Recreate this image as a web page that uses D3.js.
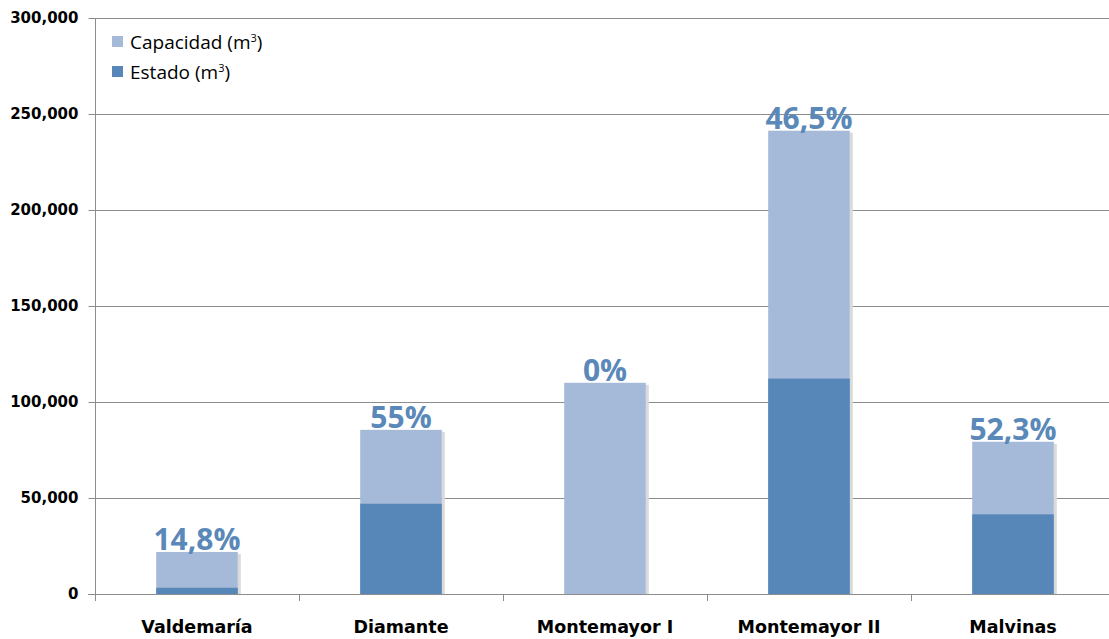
<!DOCTYPE html>
<html>
<head>
  <meta charset="UTF-8">
  <title>Capacidad y estado</title>
  <style>
    body { margin: 0; background: #fff; }
    svg { display: block; }
    .ytick text { font-family: "DejaVu Sans", sans-serif; font-weight: bold; font-size: 15px; fill: #000; }
    .xlab { font-family: "DejaVu Sans", sans-serif; font-weight: bold; font-size: 17.5px; fill: #000; }
    .pct { font-family: "Open Sans", sans-serif; font-weight: bold; font-size: 30px; fill: #5a88b9; }
    .legend text { font-family: "Open Sans", sans-serif; font-size: 19px; fill: #000; }
  </style>
</head>
<body>
<svg></svg>
<script src="https://d3js.org/d3.v7.min.js"></script>
<script>

let width = 1109, height = 639;

// data
let depositos = ["Valdemaría", "Diamante", "Montemayor I", "Montemayor II", "Malvinas"];
let capacidad = [21900, 85500, 110000, 241300, 79300];
let estado    = [3240, 47000, 0, 112200, 41500];
let porcentaje = ["14,8%", "55%", "0%", "46,5%", "52,3%"];
let yTicks = [0, 50000, 100000, 150000, 200000, 250000, 300000];

const colCap = "#a5b9d8", colEst = "#5787b8";

let svg = d3.select("svg")
    .attr("width", width)
    .attr("height", height);

let x = d3.scaleBand()
  .domain(depositos)
  .range([95, 1115])
  .paddingInner(0.6)
  .paddingOuter(0.3);

let y = d3.scaleLinear()
  .domain([0, 300000])
  .range([594, 18]);

// gridlines
svg.append("g")
  .selectAll("line")
  .data(yTicks.slice(1))
  .enter()
  .append("line")
    .attr("x1", 95).attr("x2", width)
    .attr("y1", d => Math.round(y(d)) + 0.5)
    .attr("y2", d => Math.round(y(d)) + 0.5)
    .attr("stroke", "#8c8c8c")
    .attr("stroke-width", 1);

// y axis
let yAxis = svg.append("g")
  .attr("class", "ytick")
  .attr("transform", "translate(95.5,0)")
  .call(d3.axisLeft(y).tickValues(yTicks).tickSize(7).tickPadding(10)
    .tickFormat(d3.format(",")));
yAxis.select(".domain").attr("stroke", "#8c8c8c").attr("d", "M0," + y(300000) + "V" + (y(0) + 7));
yAxis.selectAll(".tick line").attr("stroke", "#8c8c8c");
yAxis.selectAll(".tick").attr("transform", d => "translate(0," + (Math.round(y(d)) + 0.5) + ")");

// bars: capacity behind, current state in front
let g = svg.append("g");

// soft shadow on the right of each bar
g.selectAll("rect.shadow")
  .data(depositos)
  .enter()
  .append("rect")
    .attr("x", d => x(d) + x.bandwidth())
    .attr("y", (d, i) => y(capacidad[i]) + 2)
    .attr("width", 3)
    .attr("height", (d, i) => y(0) - y(capacidad[i]) - 2)
    .attr("fill", "#dadada");

g.selectAll("rect.cap")
  .data(depositos)
  .enter()
  .append("rect")
    .attr("x", d => x(d))
    .attr("y", (d, i) => y(capacidad[i]))
    .attr("width", x.bandwidth())
    .attr("height", (d, i) => y(0) - y(capacidad[i]))
    .attr("fill", colCap);

g.selectAll("rect.est")
  .data(depositos)
  .enter()
  .append("rect")
    .attr("x", d => x(d))
    .attr("y", (d, i) => y(estado[i]))
    .attr("width", x.bandwidth())
    .attr("height", (d, i) => y(0) - y(estado[i]))
    .attr("fill", colEst);

// baseline and category ticks
svg.append("line")
  .attr("x1", 88).attr("x2", width)
  .attr("y1", 594.5).attr("y2", 594.5)
  .attr("stroke", "#8c8c8c");

let step = x.step();
svg.append("g")
  .selectAll("line")
  .data(depositos.slice(1))
  .enter()
  .append("line")
    .attr("x1", d => Math.round(x(d) - (step - x.bandwidth()) / 2) + 0.5)
    .attr("x2", d => Math.round(x(d) - (step - x.bandwidth()) / 2) + 0.5)
    .attr("y1", 594).attr("y2", 601)
    .attr("stroke", "#8c8c8c");

// category labels
svg.append("g")
  .selectAll("text")
  .data(depositos)
  .enter()
  .append("text")
    .attr("class", "xlab")
    .attr("x", d => x(d) + x.bandwidth() / 2)
    .attr("y", 633)
    .attr("text-anchor", "middle")
    .text(d => d);

// percentage labels
svg.append("g")
  .selectAll("text")
  .data(depositos)
  .enter()
  .append("text")
    .attr("class", "pct")
    .attr("x", d => x(d) + x.bandwidth() / 2)
    .attr("y", (d, i) => y(capacidad[i]) - 2)
    .attr("text-anchor", "middle")
    .text((d, i) => porcentaje[i]);

// legend
let legend = svg.append("g").attr("class", "legend");
let items = [["Capacidad (m", colCap], ["Estado (m", colEst]];
items.forEach((it, i) => {
  legend.append("rect")
    .attr("x", 112).attr("y", 36 + i * 30)
    .attr("width", 11).attr("height", 11)
    .attr("fill", it[1]);
  let t = legend.append("text")
    .attr("x", 130).attr("y", 49 + i * 30)
    .text(it[0]);
  t.append("tspan").attr("font-size", "11px").attr("dy", -7).text("3");
  t.append("tspan").attr("dy", 7).text(")");
});

</script>
</body>
</html>
